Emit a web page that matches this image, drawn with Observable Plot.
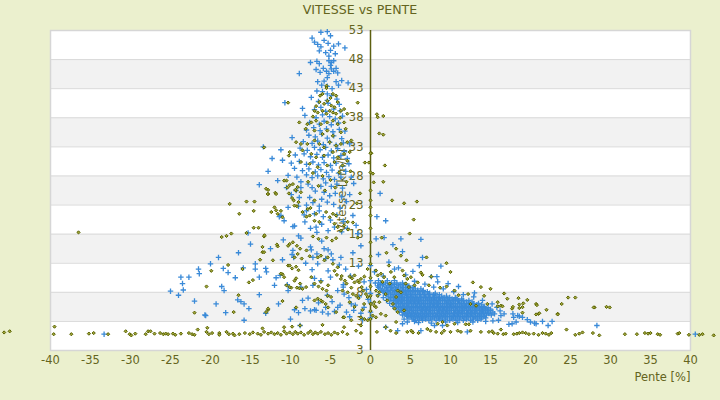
<!DOCTYPE html>
<html><head><meta charset="utf-8">
<script src="https://cdn.jsdelivr.net/npm/d3@7"></script>
<script src="https://cdn.jsdelivr.net/npm/@observablehq/plot@0.6"></script>
<style>
html,body{margin:0;padding:0;background:#ebf0ce;}
#wrap{width:720px;height:400px;position:relative;overflow:hidden;font-family:"DejaVu Sans",sans-serif;}
#title{height:22px;line-height:20px;text-align:center;font-size:12.6px;color:#646420;}
svg{display:block;}
</style></head><body><div id="wrap"><div id="title"></div><div id="chart"></div></div>
<script>
const titleText = "VITESSE vs PENTE";
const xTitle = "Pente [%]";
const yTitle = "Vitesse [km/h]";
const xTicks = [-40,-35,-30,-25,-20,-15,-10,-5,0,5,10,15,20,25,30,35,40];
const yTicks = [-2,3,8,13,18,23,28,33,38,43,48,53];
const yTickLabels = ["3","3","8","13","18","23","28","33","38","43","48","53"];

// Blue series (+)
const blueTop = [[-7.3,51.7],[-6.2,52.7],[-5.4,52.8],[-5.0,52.1],[-7.0,51.0],[-6.6,50.6],[-6.2,50.2],[-5.8,51.3],[-5.3,50.8],[-4.6,50.3],[-4.0,50.7],[-3.2,50.0],[-6.4,49.5],[-5.6,49.2],[-5.0,49.6],[-4.4,49.0],[-5.2,48.6],[-7.5,47.5],[-6.7,47.7],[-6.4,47.3],[-5.2,47.8],[-4.9,47.5],[-4.6,47.8],[-5.0,47.0],[-8.9,45.6],[-6.8,46.3],[-6.3,45.8],[-5.9,46.5],[-5.5,46.0],[-5.2,45.6],[-4.9,46.4],[-4.6,46.0],[-4.3,46.5],[-4.1,45.7],[-5.4,44.9],[-6.6,44.2],[-6.1,43.6],[-5.8,44.3],[-5.4,43.4],[-4.3,44.2],[-4.0,43.6],[-3.6,44.4],[-2.8,44.0],[-4.8,43.0],[-6.7,42.6],[-6.0,42.5],[-5.4,42.1],[-4.9,41.8],[-10.7,40.6],[-8.5,39.6],[-5.4,41.0],[-5.3,40.5],[-4.2,41.2],[-3.9,40.3],[-6.5,40.8],[-7.4,41.5]];
const blueUpper = [[-7.0,39.4],[-6.2,39.8],[-5.6,39.1],[-4.6,39.5],[-3.8,39.2],[-8.2,38.4],[-6.8,38.0],[-6.0,38.5],[-5.1,38.2],[-4.4,37.8],[-3.5,38.3],[-7.6,37.2],[-6.4,36.9],[-5.8,37.4],[-4.9,36.8],[-4.0,37.1],[-8.0,35.9],[-7.1,36.3],[-6.3,35.8],[-5.5,36.1],[-4.7,35.6],[-3.9,36.0],[-3.2,35.7],[-9.8,34.6],[-7.7,35.0],[-6.9,34.7],[-6.1,35.2],[-5.4,34.5],[-4.6,34.9],[-3.6,34.4],[-8.4,33.9],[-7.3,33.6],[-6.6,34.0],[-5.9,33.4],[-5.1,33.8],[-4.3,33.3],[-3.4,33.7],[-2.6,33.5],[-8.8,32.8],[-7.9,32.4],[-7.0,32.9],[-6.3,32.5],[-5.6,32.9],[-4.9,32.3],[-4.1,32.7],[-3.3,32.2],[-9.4,31.6],[-8.3,31.8],[-7.5,31.3],[-6.7,31.7],[-6.0,31.2],[-5.3,31.6],[-4.6,31.1],[-3.7,31.5],[-2.9,31.0],[-11.0,30.7],[-9.9,30.2],[-8.9,30.5],[-8.0,30.0],[-7.2,30.4],[-6.5,29.9],[-5.8,30.3],[-5.0,29.8],[-4.3,30.2],[-3.5,29.7],[-2.7,30.1],[-9.5,29.3],[-8.5,28.9],[-7.7,29.2],[-6.9,28.7],[-6.2,29.1],[-5.5,28.6],[-4.8,29.0],[-4.0,28.5],[-3.1,28.8],[-10.3,28.1],[-9.2,27.8],[-8.0,28.2],[-7.3,27.7],[-6.6,28.0],[-5.9,27.5],[-5.2,27.9],[-4.5,27.4],[-3.7,27.8],[-2.4,27.8],[-13.4,33.0],[-12.3,31.0],[-11.2,32.5],[-12.8,28.8],[-11.6,27.2],[-10.5,26.0],[-13.9,26.5]];
const blueMid = [[-8.7,27.0],[-8.7,26.0],[-9.3,25.5],[-8.9,24.3],[-8.0,23.0],[-8.0,22.0],[-9.5,19.4],[-11.2,21.2],[-11.4,21.0],[-10.8,20.3],[-9.7,19.3],[-8.2,20.1],[-8.3,21.3],[-7.8,26.6],[-7.6,24.3],[-7.2,23.4],[-6.4,22.0],[-6.4,22.8],[-6.2,26.2],[-6.8,19.2],[-6.7,18.3],[-2.1,26.7],[-2.2,21.2],[-1.8,19.5],[-1.6,18.1],[-5.6,26.8],[-4.9,26.2],[-4.2,26.6],[-3.5,25.9],[-5.8,25.2],[-5.1,24.6],[-4.4,25.0],[-3.6,24.4],[-6.9,25.4],[-6.1,24.0],[-5.4,23.5],[-4.6,23.1],[-3.8,22.5],[-3.0,23.6],[-7.0,21.5],[-5.9,21.0],[-5.0,20.4],[-4.2,21.3],[-3.4,20.2],[-7.5,19.0],[-6.1,19.7],[-5.3,18.6],[-4.5,19.2],[-3.6,18.4],[-2.9,19.0],[-9.9,24.8],[-10.3,22.6],[-9.0,22.8],[-7.3,26.0],[-2.6,24.8]];
const blueLow = [[-23.7,10.6],[-22.7,10.6],[-23.4,8.4],[-21.5,12.0],[-21.4,11.2],[-20.0,12.9],[-19.0,14.0],[-18.4,12.1],[-17.8,11.4],[-16.9,10.5],[-18.6,9.0],[-18.3,8.3],[-15.9,12.2],[-15.0,16.3],[-15.3,18.2],[-14.4,12.9],[-14.4,12.0],[-13.9,10.6],[-13.1,12.1],[-13.0,11.5],[-11.8,10.5],[-11.3,10.9],[-12.0,9.2],[-11.0,13.6],[-10.4,9.3],[-10.3,8.3],[-9.7,15.2],[-9.8,14.5],[-9.6,14.0],[-9.0,17.7],[-8.7,17.3],[-8.7,8.9],[-7.5,15.8],[-7.4,15.3],[-7.2,14.0],[-7.3,11.9],[-7.0,10.4],[-7.2,9.2],[-6.7,14.6],[-6.6,12.9],[-5.8,15.5],[-5.6,13.8],[-5.3,15.3],[-4.9,14.6],[-4.7,13.6],[-5.3,11.7],[-4.1,8.3],[-3.4,8.9],[-3.4,9.3],[-3.7,14.0],[-3.9,12.7],[-3.1,12.0],[-6.1,16.8],[-8.1,13.0],[-6.2,10.0],[-5.0,10.6],[-2.5,10.8],[-1.5,12.5],[-2.2,14.8],[-1.2,16.0],[-0.8,9.8],[-16.5,14.8],[-12.5,15.5],[-10.9,17.0],[-19.3,6.0],[-20.6,4.0],[-18.1,4.5],[-16.6,6.7],[-16.2,6.4],[-15.8,6.0],[-15.2,5.2],[-15.8,3.2],[-13.9,7.6],[-13.1,4.4],[-10.0,3.4],[-8.5,6.6],[-7.0,5.0],[-6.8,4.9],[-5.4,7.5],[-5.6,5.4],[-5.3,4.3],[-4.5,4.7],[-4.1,5.4],[-3.3,7.7],[-2.7,7.1],[-2.4,6.0],[-2.1,4.9],[-1.2,4.4],[-0.8,5.4],[-20.7,4.1],[-8.8,2.3],[-24.0,7.5],[-22.0,6.5],[-11.5,6.0],[-9.5,5.0],[-7.8,7.0],[-6.5,6.2],[-4.8,6.4],[-3.8,5.8],[-3.0,4.6],[-1.9,5.8],[-1.4,7.2],[-6.0,4.6],[-7.5,4.8],[-8.2,5.2],[-9.0,4.5],[-2.6,3.8],[-1.0,3.3],[-23.5,9.5],[-25.0,8.2]];
const blueEdge = [[1.2,25.0],[0.8,21.0],[1.9,20.3],[0.7,17.2],[1.7,17.4],[2.8,16.2],[3.8,17.2],[6.3,17.1],[0.0,12.6],[1.0,14.5],[2.3,13.2],[3.5,12.2],[0.5,11.5],[1.6,10.8],[6.1,12.6],[8.3,10.7],[7.6,10.7],[9.7,9.5],[0.0,10.0],[0.0,7.8],[0.0,6.2],[0.0,4.6],[0.0,3.6],[-0.5,8.5],[-0.3,6.8],[4.0,15.0],[6.5,14.0],[8.8,12.5],[14.0,4.9],[14.6,4.9],[15.5,4.3],[16.3,4.0],[16.7,4.3],[17.9,3.7],[18.4,4.0],[17.7,2.6],[18.2,2.9],[20.0,2.9],[20.5,2.7],[22.7,3.0],[17.8,4.3],[18.6,3.9],[19.0,3.7],[20.7,2.6],[22.2,2.3],[17.3,2.5],[21.5,3.0],[28.3,2.3],[19.6,3.3],[16.0,3.2],[15.3,3.1],[1.9,2.0],[3.4,1.4],[4.0,2.6],[5.5,3.0],[6.3,1.4],[8.0,2.3],[9.0,2.3],[12.1,1.2],[4.4,11.0],[3.0,12.0],[5.3,11.6],[-33.3,0.8],[40.6,0.8],[5.5,9.9],[6.8,9.4],[7.9,8.9],[9.1,8.6],[10.4,8.1],[11.6,7.6],[12.9,7.2],[14.0,6.6],[15.2,6.0],[15.8,5.4],[16.2,4.8],[13.0,7.9],[8.4,9.8],[11.0,9.0],[4.2,3.4],[4.6,2.9],[6.0,2.8],[7.6,2.7],[9.4,2.9],[10.9,2.8],[12.8,2.9],[14.4,3.0]];
// Dense climbing cluster: rows of [speed, slopes]
const blueCoreRows = [
  [10.0,[1.0,2.1,3.0]],
  [9.6,[0.6,1.3,1.9,2.6,3.3,4.0]],
  [9.35,[1.2,1.6,2.4,3.0,3.7,4.4]],
  [9.1,[0.9,1.5,2.2,2.8,3.5,4.1,4.8]],
  [8.85,[1.0,2.0,2.6,3.3,4.0,4.6,5.3]],
  [8.6,[1.2,1.8,2.5,3.1,3.8,4.4,5.0,5.6,6.3]],
  [8.35,[1.4,2.1,2.8,3.4,4.1,4.7,5.3,5.9,6.6]],
  [8.1,[1.6,2.3,3.0,3.6,4.2,4.8,5.3,5.9,6.5,7.1]],
  [7.85,[1.8,2.5,3.2,3.8,4.4,5.0,5.6,6.2,6.8,7.4,8.1]],
  [7.6,[1.0,2.0,2.7,3.3,3.9,4.5,5.0,5.6,6.1,6.7,7.3,7.9,8.6]],
  [7.35,[2.2,2.9,3.5,4.0,4.6,5.1,5.6,6.2,6.7,7.2,7.8,8.3,8.9,9.5]],
  [7.1,[1.6,2.5,3.1,3.6,4.2,4.7,5.3,5.8,6.3,6.9,7.4,8.0,8.6,9.2,9.9,10.6]],
  [6.85,[2.5,3.2,3.7,4.2,4.8,5.3,5.8,6.3,6.9,7.4,7.9,8.5,9.0,9.6,10.2,10.8,11.4]],
  [6.6,[2.0,2.9,3.4,3.9,4.5,5.0,5.5,6.0,6.6,7.1,7.6,8.2,8.7,9.3,9.8,10.4,11.0,11.6,12.3]],
  [6.35,[2.9,3.5,4.0,4.6,5.1,5.6,6.1,6.6,7.2,7.7,8.2,8.7,9.3,9.8,10.3,10.9,11.4,12.0,12.7]],
  [6.1,[2.4,3.2,3.7,4.2,4.8,5.3,5.8,6.3,6.8,7.4,7.9,8.4,9.0,9.5,10.0,10.6,11.1,11.7,12.3,12.9,13.5]],
  [5.85,[3.2,3.8,4.3,4.8,5.4,5.9,6.4,6.9,7.5,8.0,8.5,9.0,9.6,10.1,10.6,11.2,11.7,12.2,12.8,13.3,13.9]],
  [5.6,[2.8,3.5,4.0,4.5,5.1,5.6,6.1,6.6,7.1,7.7,8.2,8.7,9.2,9.8,10.3,10.8,11.4,11.9,12.5,13.0,13.6,14.2]],
  [5.35,[3.5,4.1,4.6,5.1,5.7,6.2,6.7,7.2,7.8,8.3,8.8,9.3,9.9,10.4,10.9,11.5,12.0,12.5,13.1,13.6,14.2,14.7]],
  [5.1,[3.2,3.8,4.3,4.8,5.3,5.9,6.4,6.9,7.4,8.0,8.5,9.0,9.5,10.1,10.6,11.1,11.7,12.2,12.7,13.3,13.8,14.4,15.0]],
  [4.85,[3.9,4.4,4.9,5.4,5.9,6.5,7.0,7.5,8.0,8.6,9.1,9.6,10.1,10.7,11.2,11.7,12.3,12.8,13.3,13.9,14.4,15.0]],
  [4.6,[3.6,4.1,4.6,5.1,5.6,6.2,6.7,7.2,7.7,8.3,8.8,9.3,9.8,10.4,10.9,11.4,12.0,12.5,13.0,13.6,14.1,14.7,15.3]],
  [4.35,[4.3,4.8,5.3,5.8,6.3,6.8,7.3,7.8,8.4,8.9,9.4,9.9,10.5,11.0,11.5,12.1,12.6,13.1,13.7,14.2,14.8]],
  [4.1,[4.0,4.5,5.0,5.5,6.0,6.5,7.0,7.5,8.1,8.6,9.1,9.6,10.2,10.7,11.2,11.8,12.3,12.8,13.4,13.9,14.5,15.1]],
  [3.85,[4.6,5.1,5.7,6.2,6.7,7.2,7.8,8.3,8.8,9.3,9.9,10.4,10.9,11.5,12.0,12.5,13.1,13.6,14.2]],
  [3.6,[4.8,5.4,5.9,6.4,6.9,7.5,8.0,8.5,9.0,9.6,10.1,10.6,11.2,11.7,12.2,12.8,13.3,13.9,14.4]],
  [3.4,[5.2,6.1,6.9,7.7,8.6,9.4,10.3,11.1,12.0,12.9,13.8]],
  [3.2,[5.6,6.5,7.3,8.2,9.0,9.9,10.7,11.6,12.5,13.4]]
];

// Olive series (diamonds)
const oliveFloor = [[-45.8,1.1],[-45.1,1.3],[-39.5,2.1],[-39.6,0.8],[-37.4,0.8],[-35.2,0.9],[-34.6,1.0],[-32.8,0.8],[-30.6,1.3],[-30.1,0.8],[-29.9,0.6],[-29.4,0.9],[-28.1,0.8],[-27.8,1.3],[-27.5,1.3],[-27.0,0.9],[-26.3,1.0],[-25.9,0.8],[-25.6,0.9],[-25.3,0.8],[-24.7,0.9],[-24.4,0.7],[-23.7,0.9],[-22.7,1.0],[-22.3,0.8],[-22.0,0.7],[-21.6,1.6],[-20.5,1.2],[-20.2,0.8],[-19.8,1.0],[-18.9,1.0],[-18.9,0.7],[-18.0,1.2],[-17.7,0.8],[-17.2,0.9],[-17.0,0.6],[-16.4,0.8],[-15.7,1.0],[-15.1,0.8],[-14.7,1.1],[-14.1,0.9],[-13.7,0.7],[-13.3,1.2],[-12.8,0.9],[-12.4,1.1],[-12.0,0.8],[-11.6,1.0],[-11.2,0.7],[-10.8,1.3],[-10.5,0.9],[-10.1,1.1],[-9.7,0.8],[-9.4,1.2],[-9.1,0.9],[-8.7,1.1],[-8.3,0.7],[-7.8,1.0],[-7.5,1.3],[-7.2,0.8],[-6.9,1.1],[-6.6,0.9],[-6.2,1.2],[-5.7,0.8],[-5.3,1.0],[-4.9,0.7],[-4.5,1.1],[-4.1,0.9],[-3.5,1.2],[-2.9,0.8],[-1.8,1.4],[-1.2,1.0],[0.8,1.2],[1.9,2.0],[2.5,1.4],[3.2,1.0],[4.6,1.2],[5.1,1.4],[5.3,1.1],[6.0,1.0],[7.1,1.7],[7.5,1.4],[8.2,1.2],[8.9,1.0],[9.2,1.4],[10.0,1.2],[10.9,1.4],[11.3,1.2],[12.5,1.4],[13.8,1.2],[14.8,1.2],[15.2,1.3],[15.4,1.0],[15.9,0.9],[16.3,1.6],[16.6,0.8],[16.9,0.9],[17.9,0.8],[18.3,0.9],[18.6,1.0],[19.0,1.1],[19.4,1.0],[19.8,0.8],[20.4,0.9],[21.0,0.7],[21.5,1.0],[21.9,0.9],[22.3,0.7],[22.6,1.0],[24.5,1.6],[25.6,0.7],[26.1,0.9],[26.5,1.1],[27.8,1.0],[28.6,0.6],[31.8,0.8],[33.3,0.8],[34.3,1.0],[34.7,0.9],[35.0,1.0],[35.9,0.8],[36.2,0.7],[38.4,0.9],[38.6,1.0],[39.8,0.7],[41.1,0.7],[41.5,0.8],[42.9,0.6],[-10.8,2.0],[-9.8,2.1],[-8.8,2.3],[-6.0,2.4],[-13.5,1.8],[-3.3,2.0],[-1.2,2.3],[-20.4,1.9]];
const oliveCol = [[-5.5,43.5],[-5.5,43.1],[-6.3,41.8],[-6.0,42.1],[-4.7,42.1],[-4.3,41.8],[-1.6,40.6],[-10.3,40.6],[-6.4,40.7],[-5.8,40.4],[-5.4,40.9],[-4.9,40.1],[-4.1,40.7],[-7.0,39.2],[-6.6,38.9],[-6.0,39.2],[-5.5,38.7],[-5.1,39.2],[-4.7,38.9],[-4.3,38.7],[-3.7,39.2],[-3.3,39.5],[-2.9,38.7],[-7.4,37.2],[-6.8,37.5],[-6.2,36.9],[-5.4,37.2],[-4.7,37.5],[-4.1,36.9],[-3.3,37.2],[-8.9,37.2],[-7.9,36.9],[-8.1,36.1],[-7.0,35.8],[-6.0,35.2],[-5.4,35.8],[-4.7,34.9],[-3.7,35.5],[-3.1,36.1],[-8.7,33.5],[-7.9,33.5],[-7.0,34.1],[-6.4,33.5],[-5.8,32.9],[-5.1,33.8],[-4.3,33.2],[-3.7,33.5],[-2.9,33.8],[-2.4,34.1],[-9.3,33.8],[-10.1,32.1],[-8.5,32.4],[-7.4,31.8],[-6.8,31.2],[-5.8,31.5],[-4.7,32.1],[-4.1,31.2],[-3.3,31.8],[-2.6,32.1],[-13.3,32.9],[-8.7,30.4],[-7.6,30.1],[-6.6,29.5],[-5.4,29.8],[-4.5,30.4],[-3.5,29.8],[-2.9,30.6],[-10.5,27.2],[-9.7,26.6],[-9.1,26.1],[-10.2,31.5],[-10.8,27.2],[-12.8,25.6],[-12.8,24.9],[-11.9,25.1],[-10.1,26.4],[-9.3,25.5],[-8.7,25.2],[-7.2,28.5],[-6.0,28.0],[-5.0,27.3],[-3.9,28.6],[-3.0,27.0],[-7.8,27.0],[-4.4,26.0],[-2.5,28.8],[-6.5,26.3],[-5.7,25.5],[-7.2,38.2],[-6.8,40.0],[-5.0,41.4],[-4.5,39.8],[-3.8,38.0]];
const oliveZero = [[0.8,38.6],[1.6,38.3],[0.9,38.1],[1.1,35.3],[1.6,35.1],[0.1,31.9],[-0.7,30.3],[-0.2,30.3],[1.8,29.8],[0.3,28.4],[0.4,26.9],[1.6,27.0],[2.7,23.8],[4.2,23.3],[5.8,23.6],[5.4,20.5],[4.9,18.1],[1.4,17.4],[0,31.9],[0,28.6],[0,25.5],[0,23.8],[0,22.6],[0,21.2],[0,19.0],[0,16.6],[0,14.2],[0,12.9],[0,10.5],[0,9.0],[0,7.4],[0,6.0],[0,4.8],[0,3.4],[-1.3,25.0],[-1.7,23.3],[-2.8,18.8],[-2.2,20.0],[-1.6,17.4],[2.3,12.6],[3.8,14.3],[6.3,11.4],[3.2,15.5],[2.0,14.8],[4.5,13.5],[7.0,14.0],[9.5,13.0]];
const oliveLow = [[-17.6,23.2],[-16.4,21.5],[-15.5,23.6],[-14.5,23.6],[-14.6,22.0],[-18.6,17.5],[-18.0,17.7],[-17.4,18.1],[-15.5,18.2],[-14.6,19.1],[-14.0,19.1],[-13.3,17.6],[-13.5,15.8],[-13.5,14.9],[-13.8,13.6],[-14.7,10.1],[-15.2,9.7],[-19.9,11.7],[-17.8,12.7],[-17.1,4.6],[-12.8,5.0],[-12.0,22.6],[-11.6,21.5],[-11.2,22.0],[-11.0,20.9],[-10.4,26.0],[-10.2,25.0],[-9.8,24.2],[-9.4,25.6],[-9.0,23.5],[-9.6,23.8],[-9.2,22.8],[-8.0,21.0],[-7.6,21.2],[-7.0,23.8],[-7.5,22.5],[-7.2,17.6],[-6.5,17.2],[-5.5,17.4],[-4.8,16.9],[-4.3,17.3],[-9.7,16.6],[-9.2,16.0],[-8.8,15.5],[-8.0,15.2],[-9.5,14.0],[-8.6,13.8],[-7.6,14.2],[-10.3,16.0],[-11.6,15.9],[-12.2,13.5],[-11.0,11.1],[-10.3,12.6],[-9.8,12.1],[-9.3,12.4],[-9.0,11.8],[-9.3,10.4],[-8.8,9.5],[-9.9,8.8],[-9.2,8.8],[-8.9,8.7],[-9.3,5.4],[-7.0,9.5],[-6.5,9.0],[-6.0,8.6],[-5.5,8.3],[-5.3,9.2],[-6.2,9.8],[-7.0,6.6],[-6.0,6.4],[-5.6,6.0],[-5.3,5.4],[-4.5,11.7],[-4.2,11.0],[-3.6,10.8],[-3.2,10.0],[-3.0,9.5],[-3.4,3.7],[-2.6,10.7],[-2.3,10.4],[-2.0,9.7],[-1.4,9.7],[-1.1,8.9],[-0.9,8.3],[-13.05,25.8],[-12.84,24.9],[-11.8,24.9],[-12.4,21.8],[-11.8,22.1],[-9.5,22.9],[-8.5,21.8],[-7.85,22.3],[-6.8,21.5],[-6.4,20.1],[-7.0,20.3],[-5.55,21.8],[-5.1,20.9],[-4.7,21.5],[-4.3,21.2],[-4.5,19.8],[-4.1,19.2],[-3.7,18.6],[-3.3,19.5],[-2.85,20.1],[-13.25,17.8],[-13.3,14.9],[-11.7,16.2],[-10.1,16.3],[-9.1,14.6],[-10.1,12.6],[-11.2,11.2],[-10.8,10.6],[-10.5,9.2],[-10.1,8.9],[-9.5,10.0],[-8.5,8.6],[-8.05,8.9],[-7.4,10.6],[-6.6,14.0],[-6.2,14.3],[-5.76,13.5],[-5.35,14.0],[-4.7,12.9],[-4.1,12.3],[-3.7,10.3],[-2.0,10.9],[-1.6,10.0],[-1.2,10.3],[-3.5,8.3],[-2.85,8.0],[-2.2,7.7],[-1.8,7.4],[-6.6,6.9],[-6.2,6.6],[-5.35,7.4],[-4.93,7.2],[-12.8,5.2],[-13.05,4.6],[-4.3,4.6],[-3.3,3.7],[-2.4,3.2],[-1.2,3.7],[-0.77,3.4],[-0.35,3.2],[-36.5,18.3],[-16.0,12.0],[-20.5,9.0],[-22.0,4.5],[-16.5,7.5],[-11.0,6.5],[-2.4,8.8],[-1.5,7.0],[-0.8,6.0],[-1.0,5.0],[-2.0,5.5],[-2.6,6.3]];
const oliveRight = [[-0.77,10.7],[-0.36,12.0],[0.68,11.75],[0.9,10.9],[1.3,11.2],[1.7,10.6],[2.55,11.5],[2.97,10.6],[4.0,11.75],[4.2,10.9],[4.6,10.3],[5.05,10.6],[4.4,9.5],[4.8,8.9],[5.5,9.2],[5.9,9.7],[7.6,10.7],[7.3,9.2],[8.7,8.8],[12.2,7.7],[13.8,8.9],[15.0,8.6],[14.2,7.4],[12.5,6.0],[13.2,5.7],[15.9,6.3],[16.3,5.7],[17.1,6.9],[17.7,5.2],[18.6,5.3],[19.0,5.45],[19.6,6.7],[20.7,6.0],[21.0,4.3],[23.4,4.3],[-0.57,7.7],[-0.36,7.2],[0.06,6.0],[0.47,6.3],[0.68,5.45],[1.1,8.0],[1.9,7.7],[2.1,6.6],[2.8,6.0],[3.2,7.2],[3.4,8.3],[3.8,8.0],[0.27,4.0],[0.68,3.7],[1.3,4.3],[1.9,4.0],[3.0,5.2],[3.4,4.6],[4.2,4.9],[3.2,2.9],[8.4,2.6],[9.0,2.9],[9.6,2.3],[10.5,2.6],[11.9,2.5],[12.3,2.5],[14.6,6.0],[15.9,5.6],[16.5,5.6],[17.8,5.5],[18.6,5.9],[19.1,6.1],[20.8,5.8],[23.9,6.0],[28.0,5.4],[29.9,5.4],[29.5,5.5],[24.7,7.1],[25.6,7.1],[27.9,5.4],[19.0,4.5],[20.7,4.2],[21.1,4.4],[23.4,4.2],[0.69,8.3],[0.9,7.4],[1.1,6.3],[0.48,5.7],[2.4,9.5],[1.5,9.8],[6.5,11.0],[9.5,9.0],[10.5,8.3],[11.0,7.5],[16.7,7.8],[18.5,7.0],[22.0,5.0],[10.0,11.5],[12.8,9.7]];

const blueCore = blueCoreRows.flatMap(([y, xs]) => xs.map(x => [x, y]));
const blue = [...blueTop, ...blueUpper, ...blueMid, ...blueLow, ...blueEdge, ...blueCore];
const oliveAll = [...oliveFloor, ...oliveCol, ...oliveZero, ...oliveLow, ...oliveRight];
const bands = yTicks.filter((d, i) => i % 2 === 1 && i < yTicks.length - 1);

const ink = "#646420";
document.getElementById("title").textContent = titleText;

const chart = Plot.plot({
  width: 720, height: 378,
  marginLeft: 50, marginRight: 30, marginTop: 8, marginBottom: 50,
  x: {domain: [-40, 40], axis: null},
  y: {domain: [-2, 53], axis: null},
  style: {background: "transparent", overflow: "visible", fontFamily: "DejaVu Sans, sans-serif"},
  marks: [
    Plot.frame({fill: "white", stroke: null}),
    Plot.rect(bands, {y1: d => d, y2: d => d + 5, fill: "#f2f2f2"}),
    Plot.ruleY(yTicks, {y: d => d, stroke: "#d9d9d9", strokeWidth: 1}),
    Plot.frame({stroke: "#d6d6d6", strokeWidth: 1.5}),
    Plot.ruleX([0], {x: d => d, stroke: "#5c5f10", strokeWidth: 1.5}),
    Plot.text(yTicks, {x: 0, y: d => d, text: (d, i) => yTickLabels[i], textAnchor: "end", dx: -7, fill: ink, fontSize: 11.5}),
    Plot.text([yTitle], {frameAnchor: "middle", dx: -28, rotate: -90, text: d => d, fill: ink, fontSize: 11.5}),
    Plot.text(xTicks, {x: d => d, frameAnchor: "bottom", dy: 13, text: d => String(d), fill: ink, fontSize: 11.5}),
    Plot.text([xTitle], {frameAnchor: "bottom-right", textAnchor: "end", dy: 30, text: d => d, fill: ink, fontSize: 11.5}),
    Plot.dot(blue, {x: d => d[0], y: d => d[1], symbol: "plus", r: 1.9, stroke: "#3a8ad8", strokeWidth: 1.3, fill: "none"}),
    Plot.dot(oliveAll, {x: d => d[0], y: d => d[1], symbol: "diamond2", r: 1.45, stroke: "#586200", strokeWidth: 1, fill: "#a2a63a"})
  ]
});
document.getElementById("chart").appendChild(chart);
</script></body></html>
